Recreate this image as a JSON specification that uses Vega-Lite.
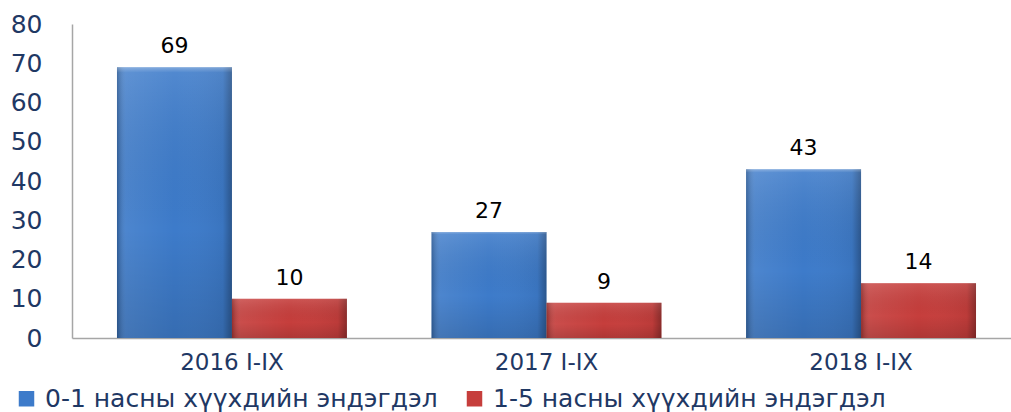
{
  "$schema": "https://vega.github.io/schema/vega-lite/v6.json",
  "width": 949,
  "height": 314,
  "autosize": {"type": "none"},
  "padding": {"left": 72, "top": 24, "right": 0, "bottom": 74},
  "background": "white",
  "config": {
    "view": {"stroke": null},
    "font": "DejaVu Sans"
  },
  "data": {
    "values": [
      {"period": "2016 I-IX", "series": "0-1 насны хүүхдийн эндэгдэл", "value": 69},
      {"period": "2016 I-IX", "series": "1-5 насны хүүхдийн эндэгдэл", "value": 10},
      {"period": "2017 I-IX", "series": "0-1 насны хүүхдийн эндэгдэл", "value": 27},
      {"period": "2017 I-IX", "series": "1-5 насны хүүхдийн эндэгдэл", "value": 9},
      {"period": "2018 I-IX", "series": "0-1 насны хүүхдийн эндэгдэл", "value": 43},
      {"period": "2018 I-IX", "series": "1-5 насны хүүхдийн эндэгдэл", "value": 14}
    ]
  },
  "encoding": {
    "x": {
      "field": "period", "type": "nominal", "title": null,
      "scale": {"paddingInner": 0.269, "paddingOuter": 0.143},
      "axis": {
        "labelAngle": 0, "labelFontSize": 23, "labelColor": "#1F3864",
        "labelPadding": 13, "ticks": false, "domainColor": "#A6A6A6", "domainWidth": 1.5
      }
    },
    "xOffset": {"field": "series", "type": "nominal", "scale": {"paddingInner": 0, "paddingOuter": 0}},
    "y": {
      "field": "value", "type": "quantitative", "title": null,
      "scale": {"domain": [0, 80], "nice": false},
      "axis": {
        "values": [0, 10, 20, 30, 40, 50, 60, 70, 80],
        "grid": false, "ticks": false, "labelFontSize": 25, "labelColor": "#1F3864",
        "labelPadding": 30, "domainColor": "#A6A6A6", "domainWidth": 1.5
      }
    }
  },
  "layer": [
    {
      "mark": {"type": "bar"},
      "encoding": {
        "color": {
          "field": "series", "type": "nominal", "title": null,
          "scale": {"range": ["#3D7BCA", "#C63E3C"]},
          "legend": {
            "orient": "none", "legendX": -58, "legendY": 362, "direction": "horizontal",
            "symbolType": "square", "symbolSize": 240, "labelFontSize": 25, "labelLimit": 0,
            "labelColor": "#1F3864", "columnPadding": 24, "labelOffset": 6, "symbolStrokeWidth": 0
          }
        }
      }
    },
    {
      "mark": {
        "type": "bar",
        "fill": {
          "gradient": "linear", "x1": 0, "x2": 1, "y1": 0, "y2": 0,
          "stops": [
            {"offset": 0, "color": "rgba(0,0,0,0.25)"},
            {"offset": 0.08, "color": "rgba(255,255,255,0.08)"},
            {"offset": 0.5, "color": "rgba(255,255,255,0.0)"},
            {"offset": 0.92, "color": "rgba(0,0,0,0.05)"},
            {"offset": 1, "color": "rgba(0,0,0,0.3)"}
          ]
        }
      }
    },
    {
      "mark": {
        "type": "bar",
        "fill": {
          "gradient": "linear", "x1": 0, "x2": 0, "y1": 0, "y2": 1,
          "stops": [
            {"offset": 0, "color": "rgba(255,255,255,0.35)"},
            {"offset": 0.02, "color": "rgba(255,255,255,0.1)"},
            {"offset": 0.6, "color": "rgba(0,0,0,0.0)"},
            {"offset": 1, "color": "rgba(0,0,0,0.12)"}
          ]
        }
      }
    },
    {
      "mark": {"type": "text", "baseline": "bottom", "dy": -9, "fontSize": 22, "color": "black"},
      "encoding": {"text": {"field": "value", "type": "quantitative"}}
    }
  ]
}
